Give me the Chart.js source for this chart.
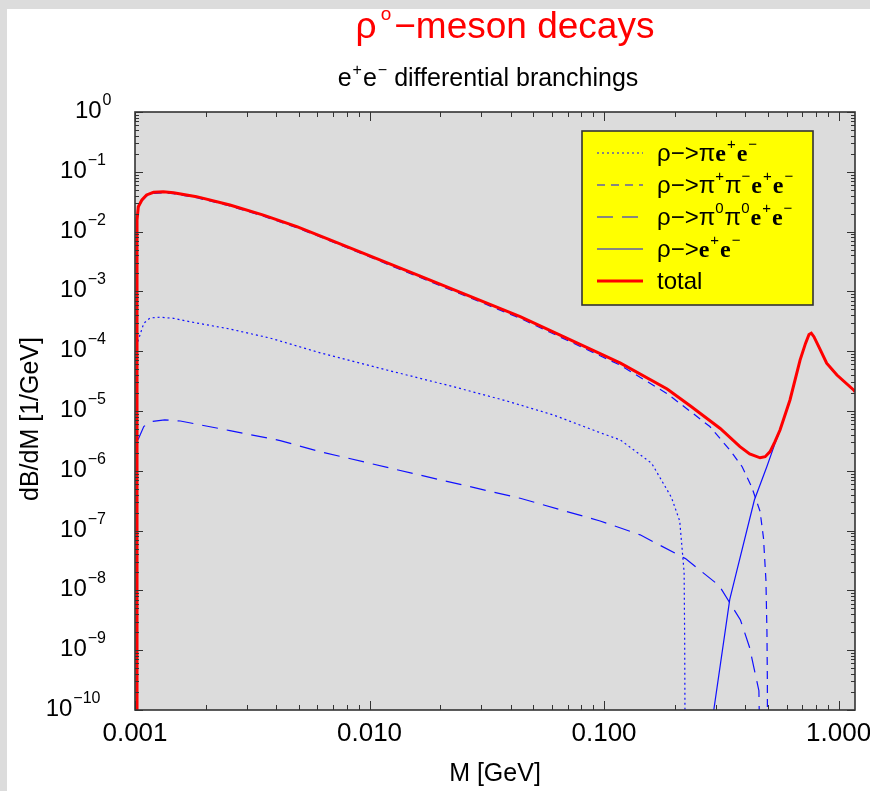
<!DOCTYPE html>
<html lang="en">
<head>
<meta charset="UTF-8">
<title>rho0 meson decays</title>
<style>
  html, body { margin: 0; padding: 0; background: #dcdcdc; }
  canvas { display: block; }
</style>
<script src="https://cdn.jsdelivr.net/npm/chart.js"></script>
</head>
<body>
<canvas id="decayChart" width="870" height="791"></canvas>
<script>
// M [GeV] and dB/dM [1/GeV]
var mEta = [0.00102, 0.001033, 0.00109, 0.00116, 0.00128, 0.00146, 0.00172, 0.00254, 0.00376, 0.00616, 0.01184, 0.0228, 0.0385, 0.0607, 0.0962, 0.1175, 0.1597, 0.1937, 0.2102, 0.2195, 0.2207, 0.2223];
var bEta = [1.2e-4, 1.54e-4, 2.93e-4, 3.6e-4, 3.7e-4, 3.55e-4, 3.1e-4, 2.35e-4, 1.66e-4, 9.4e-5, 4.85e-5, 2.55e-5, 1.47e-5, 8.6e-6, 4.34e-6, 3.27e-6, 1.33e-6, 3.6e-7, 1.45e-7, 2e-8, 1.5e-9, 1e-12];

var mPipi = [0.00102, 0.00102, 0.001033, 0.00107, 0.00112, 0.0012, 0.00132, 0.00146, 0.00183, 0.00254, 0.00353, 0.0049, 0.00679, 0.01635, 0.0439, 0.0962, 0.1175, 0.1858, 0.2336, 0.2826, 0.3446, 0.388, 0.426, 0.4626, 0.4785, 0.49, 0.495, 0.497, 0.498];
var bPipi = [1e-12, 0.015, 0.025, 0.0325, 0.0394, 0.0436, 0.0447, 0.043, 0.0369, 0.0268, 0.0181, 0.0116, 0.0070, 0.00172, 3.55e-4, 8.4e-5, 5.8e-5, 1.95e-5, 9.8e-6, 5.5e-6, 2.2e-6, 1.17e-6, 5.4e-7, 2.1e-7, 7.5e-8, 1.5e-8, 2e-9, 3e-10, 1e-12];

var mPi0 = [0.00103, 0.00109, 0.00116, 0.00134, 0.00156, 0.00254, 0.00416, 0.00616, 0.01635, 0.0439, 0.0962, 0.1425, 0.2224, 0.3098, 0.3816, 0.4168, 0.4574, 0.46, 0.462];
var bPi0 = [3.3e-6, 5.5e-6, 6.6e-6, 7.1e-6, 6.8e-6, 4.7e-6, 3.2e-6, 2.09e-6, 8.5e-7, 3.47e-7, 1.45e-7, 8.5e-8, 3.4e-8, 1.2e-8, 3.2e-9, 1.13e-9, 2.1e-10, 5e-11, 1e-12];

var mEe = [0.28, 0.2937, 0.3436, 0.3668, 0.4375, 0.4943, 0.5355, 0.5628, 0.6206, 0.6852, 0.7228, 0.748, 0.765, 0.785, 0.836, 0.8897, 0.984, 1.159, 1.175];
var bEe = [2e-11, 1e-10, 7.1e-9, 2e-8, 3.25e-7, 1.17e-6, 2.85e-6, 4.7e-6, 1.5e-5, 7e-5, 1.33e-4, 1.88e-4, 1.98e-4, 1.73e-4, 1.04e-4, 6.2e-5, 3.95e-5, 2.23e-5, 2.08e-5];

var mTotal = [0.00102, 0.00102, 0.001033, 0.00107, 0.00112, 0.0012, 0.00132, 0.00146, 0.00183, 0.00254, 0.00353, 0.0049, 0.00679, 0.01635, 0.0439, 0.0962, 0.1175, 0.1858, 0.2336, 0.3128, 0.3797, 0.4178, 0.4626, 0.4864, 0.5104, 0.5355, 0.5628, 0.6206, 0.6852, 0.7228, 0.748, 0.765, 0.785, 0.836, 0.8897, 0.984, 1.159, 1.175];
var bTotal = [1e-12, 0.0156, 0.026, 0.0338, 0.041, 0.0454, 0.0465, 0.0448, 0.0384, 0.0279, 0.0189, 0.0121, 0.0073, 0.00182, 3.8e-4, 9.1e-5, 6.3e-5, 2.33e-5, 1.21e-5, 5.1e-6, 2.53e-6, 1.91e-6, 1.65e-6, 1.72e-6, 2.09e-6, 3.07e-6, 4.8e-6, 1.53e-5, 7.1e-5, 1.35e-4, 1.9e-4, 2.0e-4, 1.75e-4, 1.05e-4, 6.3e-5, 4.0e-5, 2.25e-5, 2.1e-5];

var seriesLabels = ['ρ->πe+e-', 'ρ->π+π-e+e-', 'ρ->π0π0e+e-', 'ρ->e+e-', 'total'];

var xMin = 0.001, xMax = 1.175;
var yMin = 1e-10, yMax = 1;
var xTickValues = [0.001, 0.01, 0.1, 1];
var xTickLabels = ['0.001', '0.010', '0.100', '1.000'];
var yTickExps = [0, -1, -2, -3, -4, -5, -6, -7, -8, -9, -10];

var titleText = 'ρ°−meson decays';
var subtitleText = 'e+e- differential branchings';
var xTitle = 'M [GeV]';
var yTitle = 'dB/dM [1/GeV]';

var SANS = '"Liberation Sans", Arial, sans-serif';
var SERIF = '"Liberation Serif", "Times New Roman", serif';

function toPoints(ms, bs) {
    return ms.map(function (m, i) { return { x: m, y: bs[i] }; });
}

// draw a row of text pieces, some of them raised as superscripts
function drawRich(ctx, parts, x, y, align) {
    var w = 0;
    parts.forEach(function (p) { ctx.font = p.font; w += ctx.measureText(p.text).width + (p.gap || 0); });
    var cx = align === 'right' ? x - w : (align === 'center' ? x - w / 2 : x);
    ctx.textAlign = 'left';
    ctx.textBaseline = 'alphabetic';
    parts.forEach(function (p) {
        ctx.font = p.font;
        ctx.fillText(p.text, cx, y - (p.rise || 0));
        cx += ctx.measureText(p.text).width + (p.gap || 0);
    });
}

function legendParts(label) {
    if (label === 'total') return [{ text: 'total', font: '24px ' + SANS }];
    var s = label.replace('->', '\u2212>');
    var parts = [];
    for (var i = 0; i < s.length; i++) {
        var c = s[i];
        if (c === '+' || c === '-' || c === '0') {
            parts.push({ text: c === '-' ? '\u2212' : c, font: '15px ' + SANS, rise: 12, gap: 1 });
        } else if (c === 'e') {
            parts.push({ text: 'e', font: 'bold 24px ' + SERIF, gap: 1 });
        } else {
            parts.push({ text: c, font: '24px ' + SANS });
        }
    }
    return parts;
}

function logTicks(min, max) {
    var out = [];
    for (var d = Math.floor(Math.log10(min)); d <= Math.ceil(Math.log10(max)); d++) {
        for (var k = 1; k <= 9; k++) {
            var v = k * Math.pow(10, d);
            if (v >= min * 0.9999 && v <= max * 1.0001) out.push({ v: v, major: k === 1 });
        }
    }
    return out;
}

var lineStyles = [
    { color: '#1010ff', width: 1.2, dash: [2, 3] },
    { color: '#1010ff', width: 1.2, dash: [8, 6] },
    { color: '#1010ff', width: 1.2, dash: [16, 9] },
    { color: '#1010ff', width: 1.2, dash: [] },
    { color: '#ff0000', width: 3, dash: [] }
];

var decorPlugin = {
    id: 'decor',
    beforeDraw: function (chart) {
        var ctx = chart.ctx, a = chart.chartArea;
        ctx.save();
        ctx.fillStyle = '#dcdcdc';
        ctx.fillRect(0, 0, chart.width, chart.height);
        ctx.fillStyle = '#ffffff';
        ctx.fillRect(7, 9, chart.width - 7, chart.height - 9);
        ctx.fillStyle = '#dcdcdc';
        ctx.fillRect(a.left, a.top, a.right - a.left, a.bottom - a.top);
        ctx.restore();
    },
    afterDatasetsDraw: function (chart) {
        var ctx = chart.ctx, a = chart.chartArea;
        var xs = chart.scales.x, ys = chart.scales.y;
        ctx.save();

        // frame and inward ticks on all four sides
        ctx.strokeStyle = '#333333';
        ctx.lineWidth = 1;
        ctx.beginPath();
        logTicks(xMin, xMax).forEach(function (t) {
            var px = Math.round(xs.getPixelForValue(t.v)) + 0.5;
            var len = t.major ? 9 : 5;
            ctx.moveTo(px, a.bottom); ctx.lineTo(px, a.bottom - len);
            ctx.moveTo(px, a.top); ctx.lineTo(px, a.top + len);
        });
        logTicks(yMin, yMax).forEach(function (t) {
            var py = Math.round(ys.getPixelForValue(t.v)) + 0.5;
            var len = t.major ? 8 : 4;
            ctx.moveTo(a.left, py); ctx.lineTo(a.left + len, py);
            ctx.moveTo(a.right, py); ctx.lineTo(a.right - len, py);
        });
        ctx.stroke();
        ctx.lineWidth = 1.6;
        ctx.strokeRect(a.left, a.top, a.right - a.left, a.bottom - a.top);

        // tick labels
        ctx.fillStyle = '#000000';
        xTickValues.forEach(function (v, i) {
            drawRich(ctx, [{ text: xTickLabels[i], font: '26px ' + SANS }], xs.getPixelForValue(v), a.bottom + 31, 'center');
        });
        yTickExps.forEach(function (e) {
            var py = ys.getPixelForValue(Math.pow(10, e));
            var expText = e < 0 ? '\u2212' + (-e) : String(e);
            drawRich(ctx, [
                { text: '10', font: '24px ' + SANS, gap: 1 },
                { text: expText, font: '16px ' + SANS, rise: 13 }
            ], a.left - 18 - 5.5 * expText.length, py + 6, 'right');
        });

        // axis titles
        drawRich(ctx, [{ text: xTitle, font: '25px ' + SANS }], (a.left + a.right) / 2, 781, 'center');
        ctx.save();
        ctx.translate(38, (a.top + a.bottom) / 2 + 8);
        ctx.rotate(-Math.PI / 2);
        drawRich(ctx, [{ text: yTitle, font: '25px ' + SANS }], 0, 0, 'center');
        ctx.restore();

        // title and subtitle
        ctx.fillStyle = '#ff0000';
        drawRich(ctx, [
            { text: titleText.charAt(0), font: '37px ' + SANS, gap: 4 },
            { text: 'o', font: '19px ' + SANS, rise: 18, gap: 3 },
            { text: titleText.slice(2), font: '37px ' + SANS }
        ], 505, 38, 'center');
        ctx.fillStyle = '#000000';
        drawRich(ctx, [
            { text: 'e', font: '25px ' + SANS, gap: 1 },
            { text: '+', font: '16px ' + SANS, rise: 11, gap: 1 },
            { text: 'e', font: '25px ' + SANS, gap: 1 },
            { text: '\u2212', font: '16px ' + SANS, rise: 11 },
            { text: subtitleText.slice(4), font: '25px ' + SANS }
        ], 488, 86, 'center');

        // legend box
        var bx = 582, by = 131, bw = 231, bh = 174;
        ctx.fillStyle = '#ffff00';
        ctx.fillRect(bx, by, bw, bh);
        ctx.strokeStyle = '#333333';
        ctx.lineWidth = 1.6;
        ctx.strokeRect(bx, by, bw, bh);
        [0, 1, 2, 3, 4].forEach(function (k, row) {
            var ry = by + 22 + row * 32;
            var st = lineStyles[k];
            ctx.strokeStyle = st.color;
            ctx.lineWidth = st.width;
            ctx.setLineDash(st.dash);
            ctx.beginPath();
            ctx.moveTo(bx + 15, ry);
            ctx.lineTo(bx + 61, ry);
            ctx.stroke();
            ctx.setLineDash([]);
            ctx.fillStyle = '#000000';
            drawRich(ctx, legendParts(seriesLabels[k]), bx + 75, ry + 8, 'left');
        });
        ctx.restore();
    }
};

var seriesPoints = [
    toPoints(mEta, bEta),
    toPoints(mPipi, bPipi),
    toPoints(mPi0, bPi0),
    toPoints(mEe, bEe),
    toPoints(mTotal, bTotal)
];

var datasets = seriesPoints.map(function (pts, i) {
    return {
        label: seriesLabels[i],
        data: pts,
        borderColor: lineStyles[i].color,
        borderWidth: lineStyles[i].width,
        borderDash: lineStyles[i].dash,
        fill: false,
        pointRadius: 0,
        tension: 0,
        order: i === 4 ? 0 : 1
    };
});

var ctx = document.getElementById('decayChart').getContext('2d');
var chart = new Chart(ctx, {
    type: 'line',
    data: { datasets: datasets },
    options: {
        responsive: false,
        animation: false,
        layout: { padding: { left: 135, right: 15, top: 112, bottom: 81 } },
        plugins: {
            legend: { display: false },
            title: { display: false },
            tooltip: { enabled: false }
        },
        scales: {
            x: { type: 'logarithmic', min: xMin, max: xMax, display: false },
            y: { type: 'logarithmic', min: yMin, max: yMax, display: false }
        }
    },
    plugins: [decorPlugin]
});
</script>
</body>
</html>
